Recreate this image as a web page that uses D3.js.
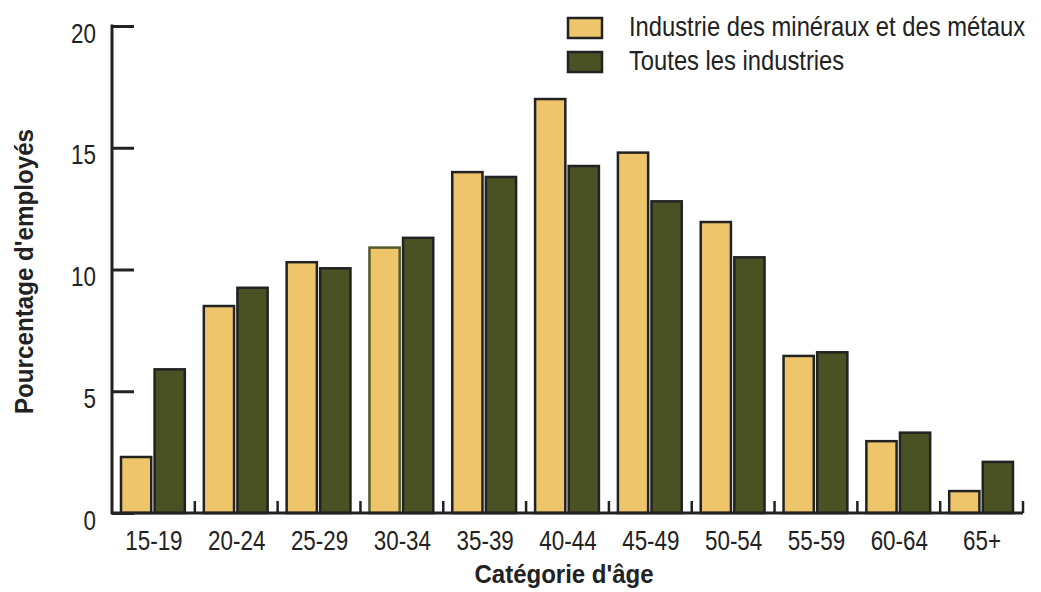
<!DOCTYPE html>
<html>
<head>
<meta charset="utf-8">
<script src="https://cdn.jsdelivr.net/npm/d3@7"></script>
<style>
  html, body { margin: 0; padding: 0; background: #fff; }
  svg { display: block; }
  text { font-family: "Liberation Sans Narrow", "Liberation Sans", Arial, sans-serif; fill: #222; }
</style>
</head>
<body>
<svg id="chart" width="1041" height="592"></svg>
<script>
// Age groups and share of employees (%) per group
const categories = ["15-19", "20-24", "25-29", "30-34", "35-39", "40-44", "45-49", "50-54", "55-59", "60-64", "65+"];
const mineralsMetals = [2.3, 8.5, 10.3, 10.9, 14.0, 17.0, 14.8, 11.95, 6.45, 2.95, 0.9];
const allIndustries = [5.9, 9.25, 10.05, 11.3, 13.8, 14.25, 12.8, 10.5, 6.6, 3.3, 2.1];
const seriesNames = ["Industrie des minéraux et des métaux", "Toutes les industries"];
const yTicks = [0, 5, 10, 15, 20];
const colors = ["#EEC56B", "#4A5224"];

const svg = d3.select("#chart");
const plotLeft = 112, plotRight = 1023, plotTop = 26, plotBottom = 513;

// Condensed look: draw text at (px, py) squeezed horizontally by sx
function placeText(sel, px, py, sx, extra = "") {
  sel.attr("x", 0).attr("y", 0)
     .attr("transform", (d, i) => {
       const X = typeof px === "function" ? px(d, i) : px;
       const Y = typeof py === "function" ? py(d, i) : py;
       return `translate(${X},${Y}) ${extra} scale(${sx},1)`;
     });
  return sel;
}

const x = d3.scaleBand().domain(categories).range([plotLeft, plotRight]).paddingInner(0).paddingOuter(0);
const y = d3.scaleLinear().domain([0, 20]).range([plotBottom, plotTop]);

const inner = d3.scaleBand().domain([0, 1]).range([9, x.bandwidth() - 10]).paddingInner(0.1);

// Bars
const groups = svg.append("g").selectAll("g")
  .data(categories)
  .join("g")
  .attr("transform", d => `translate(${x(d)},0)`);

[mineralsMetals, allIndustries].forEach((vals, s) => {
  groups.append("rect")
    .attr("x", inner(s))
    .attr("width", inner.bandwidth())
    .attr("y", (d, i) => y(vals[i]))
    .attr("height", (d, i) => y(0) - y(vals[i]))
    .attr("fill", colors[s])
    .attr("stroke", (d, i) => (s === 0 && d === "30-34") ? "#555a2c" : "#222")
    .attr("stroke-width", 2.5);
});

// Y axis: ticks pointing into the plot
const yAxis = svg.append("g")
  .attr("transform", `translate(${plotLeft},0)`)
  .call(d3.axisRight(y).tickValues(yTicks).tickSize(22).tickFormat(d3.format("d")));
yAxis.select(".domain").remove();
yAxis.selectAll(".tick line").attr("stroke", "#222").attr("stroke-width", 3);
placeText(yAxis.selectAll(".tick text"), -16, 16, 0.8)
  .attr("dy", null)
  .attr("text-anchor", "end")
  .style("font-size", "28px").attr("fill", "#222");
svg.append("line")
  .attr("x1", plotLeft).attr("x2", plotLeft).attr("y1", plotTop - 1.5).attr("y2", plotBottom + 1.5)
  .attr("stroke", "#222").attr("stroke-width", 3);

// X axis: baseline with small upward ticks between groups
svg.append("line")
  .attr("x1", plotLeft).attr("x2", plotRight).attr("y1", plotBottom).attr("y2", plotBottom)
  .attr("stroke", "#222").attr("stroke-width", 3);
svg.append("g").selectAll("line")
  .data(categories.slice(1).map(c => x(c)).concat([plotRight]))
  .join("line")
  .attr("x1", d => d).attr("x2", d => d)
  .attr("y1", plotBottom).attr("y2", plotBottom - 12)
  .attr("stroke", "#222").attr("stroke-width", 2.5);
placeText(
  svg.append("g").selectAll("text").data(categories).join("text"),
  d => x(d) + x.bandwidth() / 2 + 0.5, 550, 0.8)
  .attr("text-anchor", "middle")
  .style("font-size", "28px")
  .text(d => d);

// Axis titles
placeText(svg.append("text"), 564, 583, 0.96)
  .attr("text-anchor", "middle")
  .style("font-size", "25px").style("font-weight", "bold")
  .text("Catégorie d'âge");
placeText(svg.append("text"), 33, 271.5, 0.93, "rotate(-90)")
  .attr("text-anchor", "middle")
  .style("font-size", "26px").style("font-weight", "bold")
  .text("Pourcentage d'employés");

// Legend
const legend = svg.append("g").selectAll("g")
  .data(seriesNames)
  .join("g")
  .attr("transform", (d, i) => `translate(568,${18 + i * 34})`);
legend.append("rect")
  .attr("width", 34).attr("height", 20)
  .attr("fill", (d, i) => colors[i])
  .attr("stroke", "#222").attr("stroke-width", 2.5);
placeText(legend.append("text"), 61, 18, 0.88)
  .style("font-size", "27px")
  .text(d => d);
</script>
</body>
</html>
